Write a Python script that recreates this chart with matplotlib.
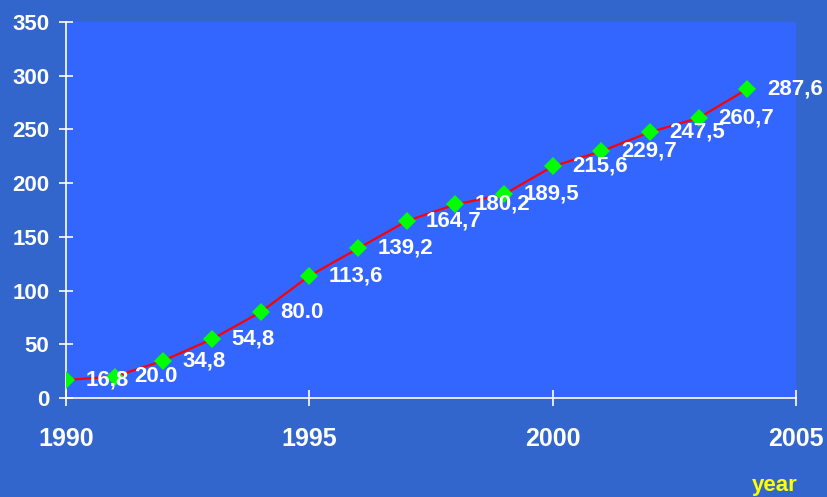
import matplotlib
matplotlib.use("Agg")
import matplotlib.pyplot as plt

plt.rcParams['font.family'] = ['Liberation Sans', 'DejaVu Sans']
plt.rcParams['font.weight'] = 'bold'

# data
years = [1990, 1991, 1992, 1993, 1994, 1995, 1996, 1997, 1998, 1999,
         2000, 2001, 2002, 2003, 2004]
values = [16.8, 20.0, 34.8, 54.8, 80.0, 113.6, 139.2, 164.7, 180.2, 189.5,
          215.6, 229.7, 247.5, 260.7, 287.6]
point_labels = ['16,8', '20.0', '34,8', '54,8', '80.0', '113,6', '139,2', '164,7',
                '180,2', '189,5', '215,6', '229,7', '247,5', '260,7', '287,6']
x_ticks = [1990, 1995, 2000, 2005]
y_ticks = [0, 50, 100, 150, 200, 250, 300, 350]

OUTER_BG = '#3366CC'
PLOT_BG = '#3366FF'

fig = plt.figure(figsize=(8.27, 4.97), dpi=100, facecolor=OUTER_BG)
ax = fig.add_axes([66 / 827, 99 / 497, 730 / 827, 376 / 497])
ax.set_facecolor(PLOT_BG)

ax.plot(years, values, color='#FF0000', linewidth=1.6, zorder=3)
ax.plot(years, values, linestyle='none', marker='D', markersize=9,
        color='#00FF00', markeredgewidth=0, zorder=4)

for x, y, lab in zip(years, values, point_labels):
    ax.annotate(lab, (x, y), xytext=(14, 0), textcoords='offset points',
                ha='left', va='center', color='white', fontsize=16,
                fontweight='bold', zorder=5)

ax.set_xlim(1990, 2005)
ax.set_ylim(0, 350)
ax.set_xticks(x_ticks)
ax.set_yticks(y_ticks)

for side in ['top', 'right']:
    ax.spines[side].set_visible(False)
for side in ['left', 'bottom']:
    ax.spines[side].set_color('white')
    ax.spines[side].set_linewidth(1.2)

ax.tick_params(axis='y', direction='inout', length=10, width=1.2, color='white',
               labelcolor='white', labelsize=16, pad=7)
ax.tick_params(axis='x', direction='inout', length=12, width=1.2, color='white',
               labelcolor='white', labelsize=18, pad=15)
for lab in ax.get_xticklabels() + ax.get_yticklabels():
    lab.set_fontweight('bold')

fig.text(775 / 827, 12 / 497, 'year', color='#FFFF00', fontsize=16,
         fontweight='bold', ha='center', va='center')

fig.savefig('out.png', dpi=100, facecolor=OUTER_BG)
